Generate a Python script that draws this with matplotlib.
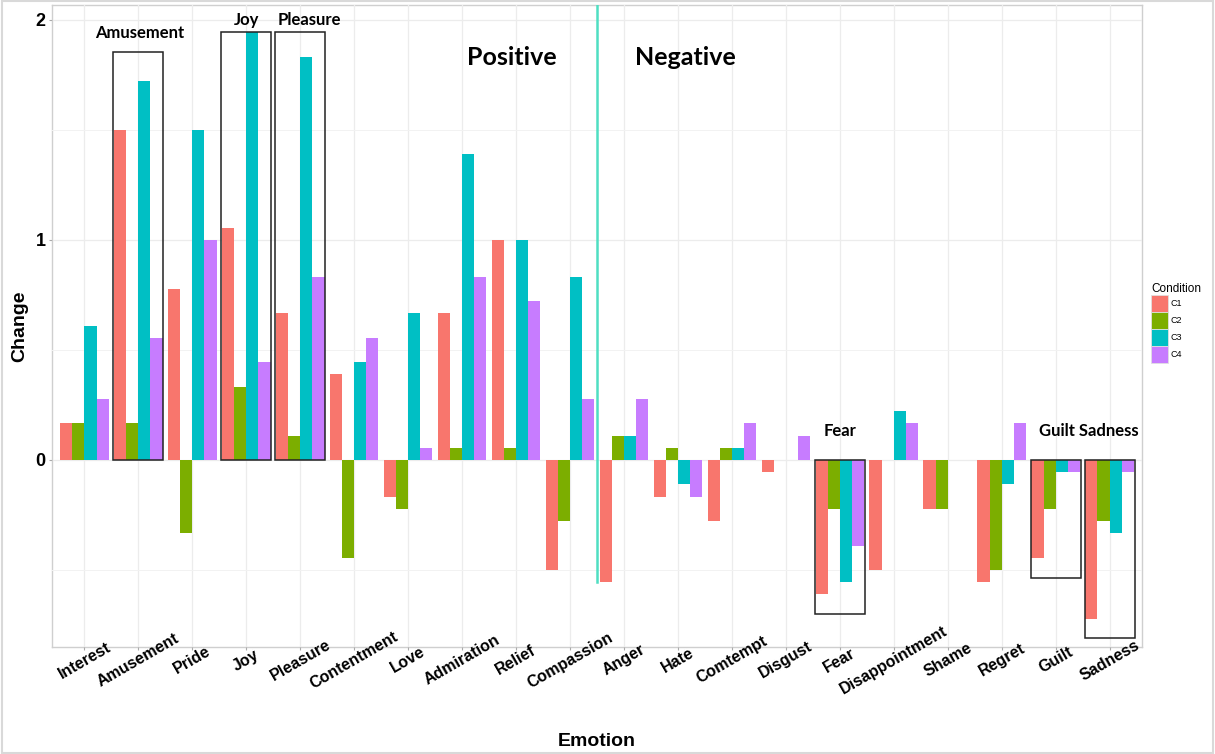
import numpy as np
import matplotlib
matplotlib.use('Agg')
import matplotlib.pyplot as plt
import matplotlib.transforms as mtransforms
from matplotlib.patches import Rectangle, Patch

plt.rcParams['font.family'] = ['Liberation Sans', 'DejaVu Sans']

# data (steps of 1/18)
emotions = ['Interest', 'Amusement', 'Pride', 'Joy', 'Pleasure', 'Contentment',
            'Love', 'Admiration', 'Relief', 'Compassion', 'Anger', 'Hate',
            'Comtempt', 'Disgust', 'Fear', 'Disappointment', 'Shame', 'Regret',
            'Guilt', 'Sadness']
c1 = [0.167, 1.5, 0.778, 1.056, 0.667, 0.389, -0.167, 0.667, 1.0, -0.5,
      -0.556, -0.167, -0.278, -0.056, -0.611, -0.5, -0.222, -0.556, -0.444, -0.722]
c2 = [0.167, 0.167, -0.333, 0.333, 0.111, -0.444, -0.222, 0.056, 0.056, -0.278,
      0.111, 0.056, 0.056, 0.0, -0.222, 0.0, -0.222, -0.5, -0.222, -0.278]
c3 = [0.611, 1.722, 1.5, 1.944, 1.833, 0.444, 0.667, 1.389, 1.0, 0.833,
      0.111, -0.111, 0.056, 0.0, -0.556, 0.222, 0.0, -0.111, -0.056, -0.333]
c4 = [0.278, 0.556, 1.0, 0.444, 0.833, 0.556, 0.056, 0.833, 0.722, 0.278,
      0.278, -0.167, 0.167, 0.111, -0.389, 0.167, 0.0, 0.167, -0.056, -0.056]
conditions = ['C1', 'C2', 'C3', 'C4']
colors = ['#F8766D', '#7CAE00', '#00BFC4', '#C77CFF']

# highlight boxes: (emotion, ymin, ymax)
boxes = [('Amusement', 0, 1.855), ('Joy', 0, 1.944), ('Pleasure', 0, 1.944),
         ('Fear', -0.70, 0), ('Guilt', -0.535, 0), ('Sadness', -0.81, 0)]
# annotation labels: (text, x, y, size)
notes = [('Amusement', 2.02, 1.94, 12), ('Joy', 4.0, 2.0, 12), ('Pleasure', 5.17, 2.0, 12),
         ('Fear', 15.0, 0.13, 12), ('Guilt Sadness', 19.61, 0.13, 12),
         ('Positive', 8.92, 1.83, 18), ('Negative', 12.14, 1.83, 18)]

fig = plt.figure(figsize=(12.15, 7.54), dpi=100)
ax = fig.add_axes([52/1215, 1-647/754, 1090/1215, 642/754])

x = np.arange(1, len(emotions) + 1)
w = 0.9 / 4
for i, (vals, col, lab) in enumerate(zip([c1, c2, c3, c4], colors, conditions)):
    ax.bar(x + (i - 1.5) * w, vals, width=w, color=col, label=lab, zorder=2)

for name, y0, y1 in boxes:
    xc = emotions.index(name) + 1
    ax.add_patch(Rectangle((xc - 0.465, y0), 0.93, y1 - y0, fill=False,
                           edgecolor='#222222', lw=1.1, zorder=3))

for txt, tx, ty, sz in notes:
    ax.text(tx, ty, txt, ha='center', va='center', fontsize=sz,
            fontweight='bold', family=['Lato', 'DejaVu Sans'], zorder=4)

# positive / negative divider
ax.plot([10.5, 10.5], [-0.556, 2.2], color='#4FDFC2', lw=1.8, zorder=3)

ax.set_xlim(0.4, 20.6)
ax.set_ylim(-0.85, 2.068)
ax.set_xticks(x)
ax.set_xticklabels(emotions, rotation=30, ha='center', va='center',
                   rotation_mode='anchor', fontsize=11.5, fontweight='bold')
offset = mtransforms.ScaledTranslation(4/100, 0, fig.dpi_scale_trans)
for lbl in ax.get_xticklabels():
    lbl.set_transform(lbl.get_transform() + offset)
ax.set_yticks([0, 1, 2])
ax.set_yticklabels(['0', '1', '2'], fontsize=13, fontweight='bold')
ax.set_yticks([-0.5, 0.5, 1.5], minor=True)
ax.tick_params(axis='x', length=2.5, width=0.8, color='#aaaaaa', pad=7)
ax.tick_params(axis='y', which='major', length=2.5, width=0.8, color='#aaaaaa', pad=2)
ax.tick_params(axis='y', which='minor', length=0)

ax.grid(True, which='major', color='#ececec', lw=0.9, zorder=0)
ax.grid(True, which='minor', axis='y', color='#f2f2f2', lw=0.7, zorder=0)
ax.set_axisbelow(True)
for s in ax.spines.values():
    s.set_color('#cfcfcf')
    s.set_linewidth(1.0)
    s.set_zorder(0.3)  # keep tick labels on top of the frame

ax.set_xlabel('Emotion', fontsize=14, fontweight='bold', labelpad=0)
ax.xaxis.set_label_coords(0.5, -(741 - 647) / 642)
ax.set_ylabel('Change', fontsize=14, fontweight='bold')
ax.yaxis.set_label_coords(-(52 - 20) / 1090, 0.5)
ax.xaxis.label.set_va('center')
ax.yaxis.label.set_va('center')

handles = [Patch(facecolor=c, edgecolor='#e0e0e0', lw=0.6) for c in colors]
leg = fig.legend(handles, conditions, title='Condition', loc='upper left',
                 bbox_to_anchor=(1151/1215, 1-283/754), frameon=False,
                 fontsize=6.5, title_fontsize=8.5, handlelength=1.9,
                 handleheight=2.5, labelspacing=0, handletextpad=0.3,
                 borderpad=0, borderaxespad=0)
leg._legend_box.align = 'left'

# light outer frame around the picture
fig.add_artist(Rectangle((2/1215, 1/754), 1211/1215, 752/754, fill=False,
                         edgecolor='#d9d9d9', lw=1.5, transform=fig.transFigure))

fig.savefig('out.png', dpi=100)
